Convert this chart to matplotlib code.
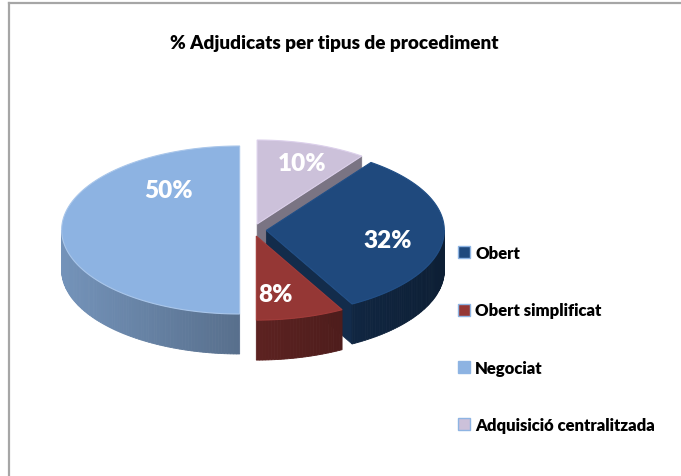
import numpy as np
import matplotlib.pyplot as plt
from matplotlib.patches import Polygon, Patch
from matplotlib.colors import to_rgb

# data
categories = ['Obert', 'Obert simplificat', 'Negociat', 'Adquisició centralitzada']
values = [32, 8, 50, 10]
colors = ['#1f497d', '#953735', '#8db3e2', '#ccc1da']
title = '% Adjudicats per tipus de procediment'

# layout of the fake 3d pie (pixel units)
cx, cy = 253, 231
rx, ry = 178, 84
depth = 40
explode = 0.075
start = 36.0  # first slice starts here, clockwise from 12 o'clock

plt.rcParams['font.family'] = ['Lato', 'DejaVu Sans']

fig = plt.figure(figsize=(6.81, 4.77), dpi=100)
ax = fig.add_axes([0, 0, 1, 1])
ax.set_xlim(0, 681)
ax.set_ylim(477, 0)
ax.axis('off')

# chart border (only top and left visible in the crop)
ax.plot([8.5, 681], [3.5, 3.5], color='#a6a6a6', lw=1.6)
ax.plot([8.5, 8.5], [3.5, 477], color='#a6a6a6', lw=1.6)


def shade(c, f):
    r, g, b = to_rgb(c)
    return (r * f, g * f, b * f)


def pt(th, ox, oy, k=1.0):
    t = np.radians(th)
    return cx + ox + k * rx * np.sin(t), cy + oy - k * ry * np.cos(t)


total = float(sum(values))
slices = []
a = start
for i, v in enumerate(values):
    a2 = a + 360.0 * v / total
    mid = (a + a2) / 2
    t = np.radians(mid)
    ox, oy = explode * rx * np.sin(t), -explode * ry * np.cos(t)
    slices.append((i, a, a2, mid, ox, oy))
    a = a2

# paint back to front
order = sorted(slices, key=lambda s: -np.cos(np.radians(s[3])))

for i, a1, a2, mid, ox, oy in order:
    col = colors[i]
    c0 = pt(0, ox, oy, 0)

    # radial walls that face the viewer
    for edge, sgn in ((a1, -1), (a2, 1)):
        if sgn * np.sin(np.radians(edge)) > 1e-6:
            e = pt(edge, ox, oy)
            quad = [c0, e, (e[0], e[1] + depth), (c0[0], c0[1] + depth)]
            ax.add_patch(Polygon(quad, closed=True, fc=shade(col, 0.6),
                                 ec=shade(col, 0.6), lw=0.5))

    # outer curved wall, front half only
    lo, hi = max(a1 % 360, 90), min(a2 if a2 <= 360 else a2 - 360, 270)
    if a1 % 360 < 270 and hi > lo:
        ths = np.linspace(lo, hi, int(hi - lo) + 2)
        for t0, t1 in zip(ths[:-1], ths[1:]):
            p0, p1 = pt(t0, ox, oy), pt(t1, ox, oy)
            f = 0.62 - 0.2 * np.sin(np.radians((t0 + t1) / 2))
            quad = [p0, p1, (p1[0], p1[1] + depth), (p0[0], p0[1] + depth)]
            ax.add_patch(Polygon(quad, closed=True, fc=shade(col, f),
                                 ec=shade(col, f), lw=0.6))

    # top face
    ths = np.linspace(a1, a2, int(a2 - a1) + 2)
    arc = [pt(t, ox, oy) for t in ths]
    ax.add_patch(Polygon([c0] + arc, closed=True, fc=col,
                         ec=shade(col, 1.08) if i != 2 else '#a9c6ea', lw=0.8))

# percentage labels
label_pos = {0: (100, 0.69), 1: (171, 0.70), 2: (320, 0.62), 3: (19, 0.77)}
for i, a1, a2, mid, ox, oy in slices:
    ang, k = label_pos[i]
    x, y = pt(ang, ox, oy, k)
    ax.text(x, y, f'{values[i]}%', color='white', fontsize=17.5,
            fontweight='heavy', ha='center', va='center')

ax.text(334, 43, title, fontsize=13.6, fontweight='heavy',
        ha='center', va='center', color='black')

handles = [Patch(facecolor=c, edgecolor='#8eb4e3', lw=1.0) for c in colors]
ax.legend(handles, categories, loc='upper left', bbox_to_anchor=(0.663, 0.498),
          frameon=False, prop={'weight': 'heavy', 'size': 12},
          handlelength=0.72, handleheight=0.72, handletextpad=0.3,
          labelspacing=2.48, borderaxespad=0)

fig.savefig('out.png', dpi=100)
